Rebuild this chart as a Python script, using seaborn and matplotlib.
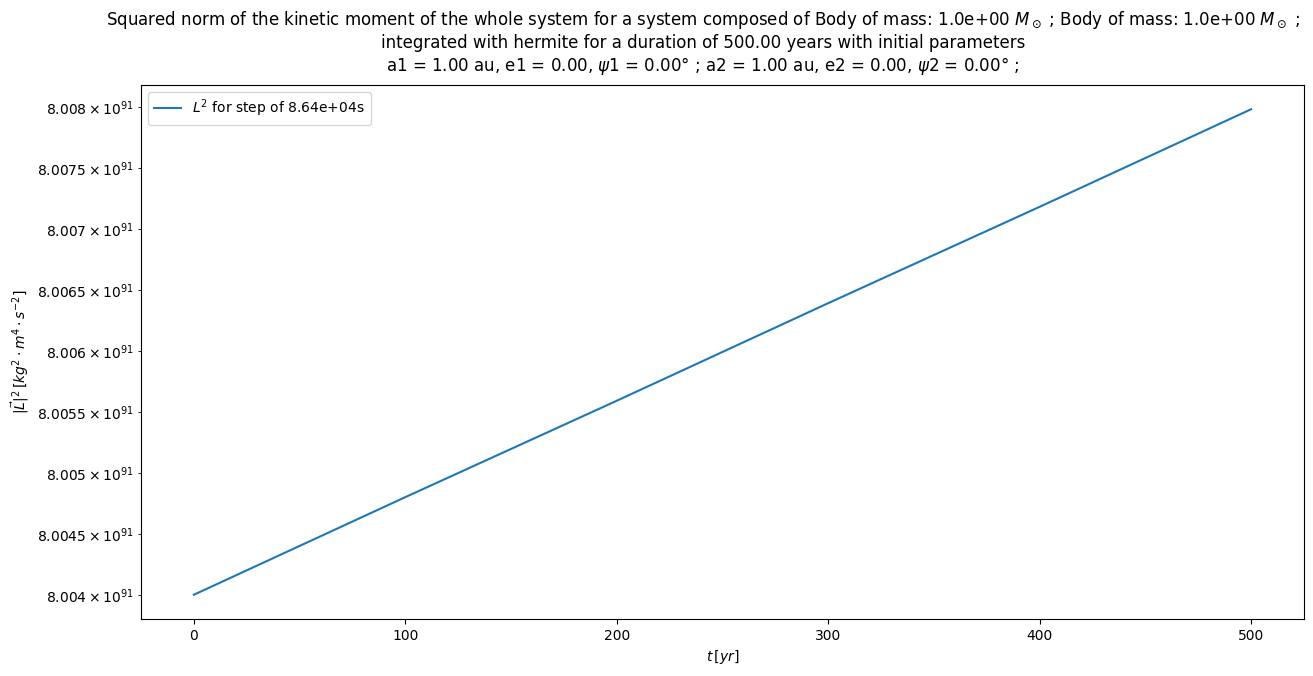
import numpy as np
import pandas as pd
import seaborn as sns
import matplotlib
matplotlib.use("Agg")
import matplotlib.pyplot as plt

# time in years and squared norm of the kinetic moment
t_yr = [0, 100, 200, 300, 400, 500]
L2 = [8.00400e91, 8.00480e91, 8.00559e91, 8.00639e91, 8.00718e91, 8.00798e91]
step_label = r"$L^2$ for step of 8.64e+04s"

df = pd.DataFrame({"t": t_yr, "L2": L2})

fig, ax = plt.subplots(figsize=(13.13, 6.76), dpi=100)
fig.subplots_adjust(left=0.1074, right=0.9931, top=0.8743, bottom=0.0843)
sns.lineplot(data=df, x="t", y="L2", ax=ax, label=step_label, color="#1f77b4")
ax.set_yscale("log")

ax.set_xlabel(r"$t\,[yr]$")
ax.set_ylabel(r"$|\vec{L}|^2\,[kg^2\cdot m^4\cdot s^{-2}]$")
ax.set_title("Squared norm of the kinetic moment of the whole system for a system composed of "
             r"Body of mass: 1.0e+00 $M_\odot$ ; Body of mass: 1.0e+00 $M_\odot$ ;" "\n"
             "integrated with hermite for a duration of 500.00 years with initial parameters\n"
             r"a1 = 1.00 au, e1 = 0.00, $\psi$1 = 0.00° ; a2 = 1.00 au, e2 = 0.00, $\psi$2 = 0.00° ;",
             x=0.483, pad=10)
ax.legend(loc="upper left")

plt.savefig("out.png", dpi=100)
plt.close()
